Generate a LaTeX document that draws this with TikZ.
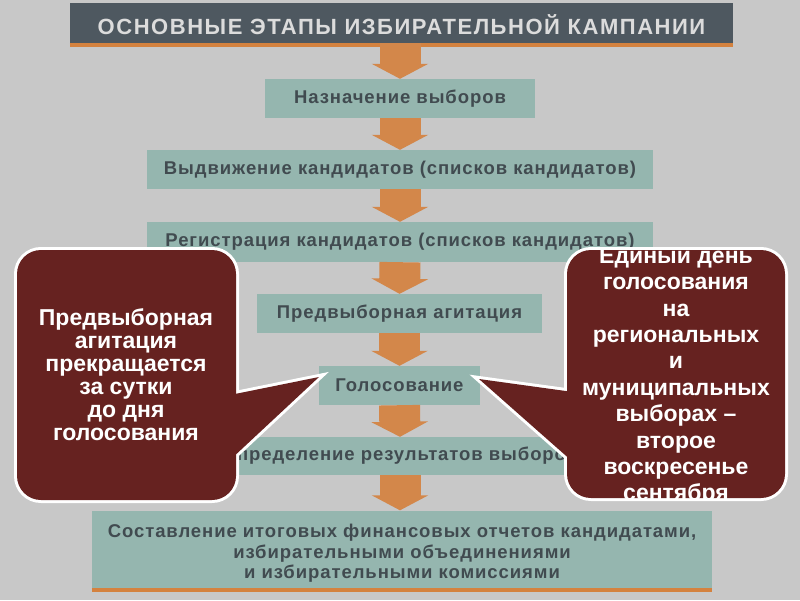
\documentclass[tikz,border=0pt]{standalone}
\usepackage{fontspec}
\setmainfont{Liberation Sans}
\usetikzlibrary{arrows.meta}
\definecolor{bg}{HTML}{C8C8C8}
\definecolor{bar}{HTML}{4E5860}
\definecolor{barline}{HTML}{D4823F}
\definecolor{boxc}{HTML}{95B6AF}
\definecolor{txt}{HTML}{414B50}
\definecolor{arr}{HTML}{D3874A}
\definecolor{callc}{HTML}{662220}
\definecolor{titletxt}{HTML}{DCDCDC}
\newfontfamily\stagefont[LetterSpace=5]{Liberation Sans}
\newfontfamily\titlefont[LetterSpace=7]{Liberation Sans}
\tikzset{
  stage/.style={fill=boxc, inner sep=0pt, text=txt, align=center,
    font=\stagefont\fontsize{18.5}{20}\selectfont\bfseries},
  flow/.style={draw=arr, line width=41pt, -{Triangle[width=56pt,length=15pt]}},
  callbox/.style={fill=callc, draw=white, line width=6pt},
  callfill/.style={fill=callc},
  calltext/.style={text=white, align=center, font=\fontsize{23}{23}\selectfont\bfseries},
}
\begin{document}
\begin{tikzpicture}[x=1pt,y=-1pt]
\fill[bg] (0,0) rectangle (800,600);
\useasboundingbox (0,0) rectangle (800,600);

\node[fill=bar, minimum width=663pt, minimum height=40pt, inner sep=0pt, text=titletxt,
  font=\titlefont\fontsize{22}{22}\selectfont\bfseries] (title) at (401.5,23)
  {\raisebox{-2pt}[\height][\depth]{ОСНОВНЫЕ ЭТАПЫ ИЗБИРАТЕЛЬНОЙ КАМПАНИИ}};
\draw[barline, line width=4pt] ([yshift=-2pt]title.south west) -- ([yshift=-2pt]title.south east);

\node[stage, minimum width=270pt, minimum height=39pt] (b1) at (400,98.5) {Назначение выборов};
\node[stage, minimum width=506pt, minimum height=39pt] (b2) at (400,169.5) {Выдвижение кандидатов (списков кандидатов)};
\node[stage, minimum width=506pt, minimum height=40pt] (b3) at (400,242) {Регистрация кандидатов (списков кандидатов)};
\node[stage, minimum width=285pt, minimum height=39pt] (b4) at (399.5,313.5) {Предвыборная агитация};
\node[stage, minimum width=161pt, minimum height=39pt] (b5) at (399.5,385.5) {Голосование};
\node[stage, minimum width=400pt, minimum height=38pt] (b6) at (400,456) {Определение результатов выборов};
\node[stage, minimum width=620pt, minimum height=77pt, font=\stagefont\fontsize{18.5}{20.5}\selectfont\bfseries] (b7) at (402,549)
  {\raisebox{-5pt}[\height][\depth]{\begin{tabular}{@{}c@{}}Составление итоговых финансовых отчетов кандидатами,\\избирательными объединениями\\и избирательными комиссиями\end{tabular}}};
\draw[barline, line width=4pt] ([yshift=-2pt]b7.south west) -- ([yshift=-2pt]b7.south east);

\draw[flow] (b1.north |- title.south) -- (b1.north);
\draw[flow] (b1.south) -- (b2.north);
\draw[flow] (b2.south) -- (b3.north);
\draw[flow] (b3.south) -- (b4.north);
\draw[flow] (b4.south) -- (b5.north);
\draw[flow] (b5.south) -- (b6.north);
\draw[flow] (b6.south) -- (b7.north -| b6.south);

% callouts
\coordinate (tipL) at (319,377);
\coordinate (tipR) at (479,379);
\coordinate (LA) at (230,395);
\coordinate (LB) at (230,460);
\coordinate (RA) at (573,392);
\coordinate (RB) at (573,462);
\path[callbox] (LA) -- (tipL) -- (LB) -- cycle;
\path[callbox, rounded corners=24pt] (17,250) rectangle (236,500);
\path[callbox] (RA) -- (tipR) -- (RB) -- cycle;
\path[callbox, rounded corners=24pt] (567,250) rectangle (785,498);
\path[callfill] (LA) -- (tipL) -- (LB) -- cycle;
\path[callfill, rounded corners=24pt] (17,250) rectangle (236,500);
\path[callfill] (RA) -- (tipR) -- (RB) -- cycle;
\path[callfill, rounded corners=24pt] (567,250) rectangle (785,498);

\node[calltext] (tl) at (126,375) {Предвыборная\\агитация\\прекращается\\за сутки\\до дня\\голосования};
\begin{scope}
\clip[rounded corners=24pt] (567,250) rectangle (785,498);
\node[calltext, font=\fontsize{23}{26.4}\selectfont\bfseries] (tr) at (676,376)
  {Единый день\\голосования\\на\\региональных\\и\\муниципальных\\выборах –\\второе\\воскресенье\\сентября};
\end{scope}
\end{tikzpicture}
\end{document}
